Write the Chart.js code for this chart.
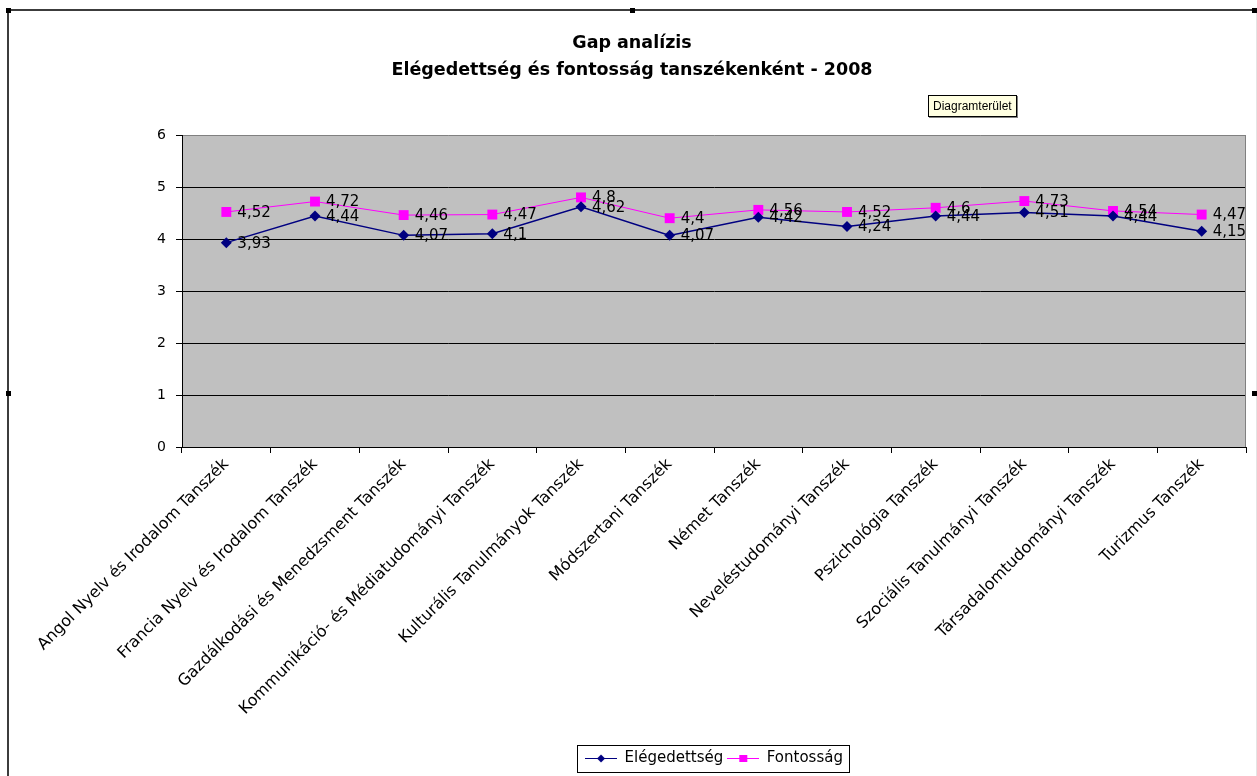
<!DOCTYPE html>
<html>
<head>
<meta charset="utf-8">
<script src="https://cdn.jsdelivr.net/npm/chart.js@4"></script>
<style>
  html, body { margin: 0; padding: 0; background: #fff; }
  #wrap { position: relative; width: 1257px; height: 776px; overflow: hidden; }
  #c { position: absolute; left: 0; top: 0; }
  #frame { position: absolute; left: 7px; top: 9px; width: 1250px; height: 790px;
           border-left: 2px solid #3c3c3c; border-top: 2px solid #3c3c3c; border-right: 1px solid #e4e4e4; box-sizing: border-box; pointer-events: none; }
  .h { position: absolute; width: 5px; height: 5px; background: #000; }
  #tip { position: absolute; left: 928px; top: 95px; padding: 3px 4px 3px 4px; background: #FFFFE1;
         border: 1px solid #000; box-shadow: 1px 1px 0 #808080; font: 12px "Liberation Sans", Arial, sans-serif; color: #000; white-space: nowrap; }
</style>
</head>
<body>
<div id="wrap">
  <canvas id="c" width="1257" height="776"></canvas>
  <div id="frame"></div>
  <div class="h" style="left:6px;top:8px"></div>
  <div class="h" style="left:630px;top:8px"></div>
  <div class="h" style="left:1252px;top:8px"></div>
  <div class="h" style="left:6px;top:391px"></div>
  <div class="h" style="left:1252px;top:391px"></div>
  <div id="tip">Diagramterület</div>
</div>
<script>
// ---- data ----
const categories = [
  'Angol Nyelv és Irodalom Tanszék',
  'Francia Nyelv és Irodalom Tanszék',
  'Gazdálkodási és Menedzsment Tanszék',
  'Kommunikáció- és Médiatudományi Tanszék',
  'Kulturális Tanulmányok Tanszék',
  'Módszertani Tanszék',
  'Német Tanszék',
  'Neveléstudományi Tanszék',
  'Pszichológia Tanszék',
  'Szociális Tanulmányi Tanszék',
  'Társadalomtudományi Tanszék',
  'Turizmus Tanszék'
];
const elegedettseg = [3.93, 4.44, 4.07, 4.1, 4.62, 4.07, 4.42, 4.24, 4.44, 4.51, 4.44, 4.15];
const fontossag    = [4.52, 4.72, 4.46, 4.47, 4.8, 4.4, 4.56, 4.52, 4.6, 4.73, 4.54, 4.47];
const seriesNames = ['Elégedettség', 'Fontosság'];
const yTicks = [0, 1, 2, 3, 4, 5, 6];
const titleLines = ['Gap analízis', 'Elégedettség és fontosság tanszékenként - 2008'];

const FONT = '"DejaVu Sans", "Liberation Sans", Arial, sans-serif';
const NAVY = '#000080';
const MAGENTA = '#FF00FF';

function legendIcon(color, style) {
  const cv = document.createElement('canvas');
  cv.width = 32; cv.height = 11;
  const g = cv.getContext('2d');
  g.strokeStyle = color; g.lineWidth = 1;
  g.beginPath(); g.moveTo(0, 5.5); g.lineTo(32, 5.5); g.stroke();
  g.fillStyle = color;
  if (style === 'diamond') {
    g.beginPath(); g.moveTo(16, 1.5); g.lineTo(20, 5.5); g.lineTo(16, 9.5); g.lineTo(12, 5.5); g.closePath(); g.fill();
  } else {
    g.fillRect(12, 2, 8, 7);
  }
  return cv;
}
const icons = [legendIcon(NAVY, 'diamond'), legendIcon(MAGENTA, 'square')];

const plotStyle = {
  id: 'plotStyle',
  beforeDraw(chart) {
    const a = chart.chartArea, ctx = chart.ctx;
    ctx.save();
    ctx.fillStyle = '#C0C0C0';
    ctx.fillRect(a.left, a.top, a.right - a.left, a.bottom - a.top);
    ctx.restore();
  },
  afterDraw(chart) {
    const a = chart.chartArea, ctx = chart.ctx;
    ctx.save();
    ctx.strokeStyle = '#808080'; ctx.lineWidth = 1;
    ctx.beginPath(); ctx.moveTo(Math.round(a.right) - 0.5, a.top); ctx.lineTo(Math.round(a.right) - 0.5, a.bottom); ctx.stroke();
    // legend border
    const lg = chart.legend;
    if (lg && lg.legendHitBoxes && lg.legendHitBoxes.length) {
      const hb = lg.legendHitBoxes;
      const l = hb[0].left - 8;
      const last = hb[hb.length - 1];
      const r = last.left + last.width + 6;
      const t = hb[0].top - 6;
      const b = hb[0].top + hb[0].height + 6;
      ctx.strokeStyle = '#000';
      ctx.strokeRect(Math.round(l) + 0.5, Math.round(t) + 0.5, Math.round(r - l), Math.round(b - t));
    }
    ctx.restore();
  }
};

const dataLabels = {
  id: 'dataLabels',
  afterDatasetsDraw(chart) {
    const ctx = chart.ctx;
    ctx.save();
    ctx.font = '15px ' + FONT;
    ctx.fillStyle = '#000';
    ctx.textAlign = 'left';
    ctx.textBaseline = 'middle';
    [1, 0].forEach(di => {
      const meta = chart.getDatasetMeta(di);
      const vals = chart.data.datasets[di].data;
      meta.data.forEach((pt, i) => {
        const txt = String(vals[i]).replace('.', ',');
        ctx.fillText(txt, pt.x + 11, pt.y + 1);
      });
    });
    ctx.restore();
  }
};

new Chart(document.getElementById('c'), {
  type: 'line',
  data: {
    labels: categories,
    datasets: [
      { label: seriesNames[0], data: elegedettseg, borderColor: NAVY, backgroundColor: NAVY, borderWidth: 1.5,
        pointStyle: 'rectRot', pointRadius: 5.5, pointBackgroundColor: NAVY, pointBorderColor: NAVY, pointBorderWidth: 0, tension: 0 },
      { label: seriesNames[1], data: fontossag, borderColor: MAGENTA, backgroundColor: MAGENTA, borderWidth: 1,
        pointStyle: 'rect', pointRadius: 7, pointBackgroundColor: MAGENTA, pointBorderColor: MAGENTA, pointBorderWidth: 0, tension: 0 }
    ]
  },
  options: {
    responsive: false,
    animation: false,
    events: [],
    layout: { padding: { left: 18, right: 11, top: 0, bottom: 0 } },
    scales: {
      x: {
        type: 'category',
        offset: true,
        grid: { display: true, offset: true, drawOnChartArea: false, drawTicks: true, tickLength: 6, color: '#000', lineWidth: 1 },
        border: { display: true, color: '#000', width: 1 },
        ticks: { autoSkip: false, maxRotation: 45, minRotation: 45, color: '#000', padding: 2,
                 font: { family: FONT, size: 16 } },
        afterFit(scale) { scale.height = 300; }
      },
      y: {
        min: 0, max: 6,
        afterBuildTicks(scale) { scale.ticks = yTicks.map(v => ({ value: v })); },
        grid: {
          color: (c) => (c.tick && c.tick.value === 6 ? '#808080' : '#000'),
          lineWidth: 1, drawTicks: true, tickLength: 6, tickColor: '#000'
        },
        border: { display: true, color: '#000', width: 1 },
        ticks: { color: '#000', padding: 10, font: { family: FONT, size: 14 } },
        afterFit(scale) { scale.width = 164; }
      }
    },
    plugins: {
      title: {
        display: true,
        text: titleLines,
        color: '#000',
        font: { family: FONT, size: 17.5, weight: 'bold', lineHeight: 1.55 },
        padding: { top: 29.5, bottom: 51.25 }
      },
      legend: {
        display: true,
        position: 'bottom',
        fullSize: false,
        labels: {
          color: '#000',
          font: { family: FONT, size: 15 },
          usePointStyle: true,
          pointStyleWidth: 32,
          padding: 4,
          generateLabels(chart) {
            const items = Chart.defaults.plugins.legend.labels.generateLabels(chart);
            items.forEach(it => { it.pointStyle = icons[it.datasetIndex]; });
            return items;
          }
        }
      },
      tooltip: { enabled: false }
    }
  },
  plugins: [plotStyle, dataLabels]
});
</script>
</body>
</html>
